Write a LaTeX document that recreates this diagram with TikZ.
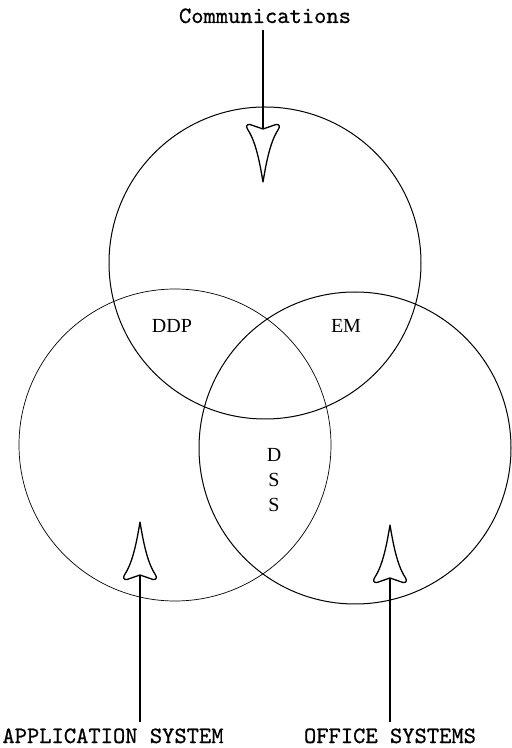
\documentclass[tikz,border=0pt]{standalone}
\usepackage{fontspec}
\usepackage{tikz}
\usetikzlibrary{calc}
\newfontfamily\typew{lmmono10-regular}[Extension=.otf, FakeBold=0.7]
\newfontfamily\zonefont{Liberation Serif}

\tikzset{
  dart/.pic={
    \draw[line width=1.3pt, line join=round, fill=white]
      (0,0) .. controls (3,-18) and (7,-40) .. (15,-52)
      .. controls (17,-55) and (17,-58) .. (13,-57.5)
      -- (0,-53) -- (-13,-57.5)
      .. controls (-17,-58) and (-17,-55) .. (-15,-52)
      .. controls (-7,-40) and (-3,-18) .. cycle;
  }
}

\begin{document}
\begin{tikzpicture}[x=1pt,y=1pt,
    ring/.style={line width=1pt},
    thinring/.style={line width=0.7pt},
    flow/.style={line width=1.5pt},
    src/.style={font=\fontsize{23.4}{24}\selectfont\typew, inner sep=0pt, anchor=base},
    zone/.style={font=\fontsize{20}{25}\selectfont\zonefont, inner sep=0pt, align=center}]
\useasboundingbox (0,0) rectangle (512,748);
% The three areas
\coordinate (ctop) at (265,485);
\coordinate (cleft) at (175,303);
\coordinate (cright) at (355,300);
\draw[ring] (ctop) circle[radius=156];
\draw[thinring] (cleft) circle[radius=156];
\draw[ring] (cright) circle[radius=156];

% Overlap labels
\node[zone] (ddp) at (172,422) {DDP};
\node[zone] (em) at (346,422) {EM};
\node[zone] (dss) at (274,268) {D\\S\\S};

% Sources
\node[src] (comm) at (265,725) {Communications};
\node[src] (apps) at (113,5) {APPLICATION SYSTEM};
\node[src] (office) at (390,5) {OFFICE SYSTEMS};

% Incoming arrows
\coordinate (tipT) at (263,566);
\coordinate (tipL) at (140,226);
\coordinate (tipR) at (390,223);
\coordinate (notchT) at ($(tipT)+(0,53)$);
\coordinate (notchL) at ($(tipL)+(0,-53)$);
\coordinate (notchR) at ($(tipR)+(0,-53)$);
\draw[flow] (comm.base -| notchT) ++(0,-7) -- (notchT);
\draw[flow] (apps.base -| notchL) ++(0,21) -- (notchL);
\draw[flow] (office.base -| notchR) ++(0,21) -- (notchR);
\pic[rotate=180] at (tipT) {dart};
\pic at (tipL) {dart};
\pic at (tipR) {dart};
\end{tikzpicture}
\end{document}
